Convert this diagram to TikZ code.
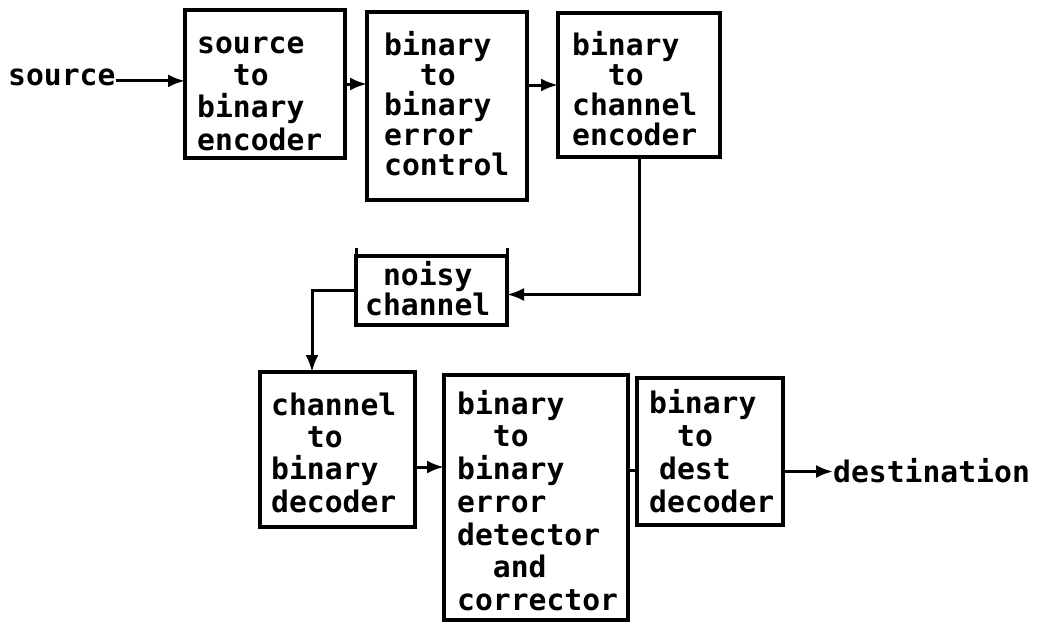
\documentclass[tikz,border=0pt]{standalone}
\usepackage{fontspec}
\newfontfamily\monof{DejaVu Sans Mono}
\usetikzlibrary{arrows.meta}
\begin{document}
\begin{tikzpicture}[x=1pt,y=-1pt,
  blk/.style={draw, line width=3.4pt, rectangle, inner sep=0pt, outer sep=0pt, anchor=north west},
  lbl/.style={inner sep=0pt, anchor=north west, align=left, font=\monof\bfseries\fontsize{29.7}{#1}\selectfont},
  lbl/.default=32,
  one/.style={inner sep=0pt, anchor=base west, font=\monof\bfseries\fontsize{29.7}{32}\selectfont},
  wire/.style={line width=3pt},
  arr/.style={wire, -{Latex[length=17pt,width=13pt]}}]
\useasboundingbox (0,0) rectangle (1043,624);

% boxes
\node[blk, minimum width=160pt, minimum height=148pt] (b1) at (185,10) {};
\node[blk, minimum width=160pt, minimum height=188pt] (b2) at (367,12) {};
\node[blk, minimum width=162pt, minimum height=144pt] (b3) at (558,13) {};
\node[blk, minimum width=151pt, minimum height=69pt]  (nz) at (356,256) {};
\node[blk, minimum width=155pt, minimum height=155pt] (b4) at (260,372) {};
\node[blk, minimum width=184pt, minimum height=245pt] (b5) at (444,375) {};
\node[blk, minimum width=146pt, minimum height=147pt] (b6) at (637,378) {};
\draw[wire] (nz.north west) -- ++(0,-8);
\draw[wire] (nz.north east) -- ++(0,-8);

% texts
\node[lbl=32.3] (t1) at (197,28) {\rule{0pt}{25pt}source\\\phantom{xx}to\\binary\\encoder};
\node[lbl=30] (t2) at (384,30) {\rule{0pt}{25pt}binary\\\phantom{xx}to\\binary\\error\\control};
\node[lbl=30] (t3) at (572,30) {\rule{0pt}{25pt}binary\\\phantom{xx}to\\channel\\encoder};
\node[lbl=30] (tn) at (365,260) {\rule{0pt}{25pt}\phantom{x}noisy\\channel};
\node[lbl=32.3] (t4) at (271,390) {\rule{0pt}{25pt}channel\\\phantom{xx}to\\binary\\decoder};
\node[lbl=32.7] (t5) at (457,389) {\rule{0pt}{25pt}binary\\\phantom{xx}to\\binary\\error\\detector\\\phantom{xx}and\\corrector};
\node[lbl=33] (t6) at (649,388) {\rule{0pt}{25pt}binary\\\hspace*{28pt}to\\\hspace*{10pt}dest\\decoder};
\node[one] (src) at (8,85) {source};
\node[one] (dest) at (833,482) {destination};

% connectors
\coordinate (s1) at ([yshift=-4pt]src.east);
\draw[arr] (s1) -- (s1 -| b1.west);
\draw[arr] (b1.east) -- (b1.east -| b2.west);
\draw[arr] (b3.west -| b2.east) -- (b3.west);
\coordinate (n1) at ([yshift=-4pt]nz.east);
\draw[arr] (b3.south) |- (n1);
\coordinate (c4) at ([xshift=-25.5pt]b4.north);
\draw[arr] (nz.west) -| (c4);
\coordinate (c45) at ([yshift=-17.5pt]b4.east);
\draw[arr] (c45) -- (c45 -| b5.west);
\coordinate (c56) at ([yshift=-18.5pt]b6.west);
\draw[wire] (c56 -| b5.east) -- (c56);
\coordinate (c6) at ([yshift=-20pt]b6.east);
\draw[arr] (c6) -- (c6 -| dest.west);
\end{tikzpicture}
\end{document}
